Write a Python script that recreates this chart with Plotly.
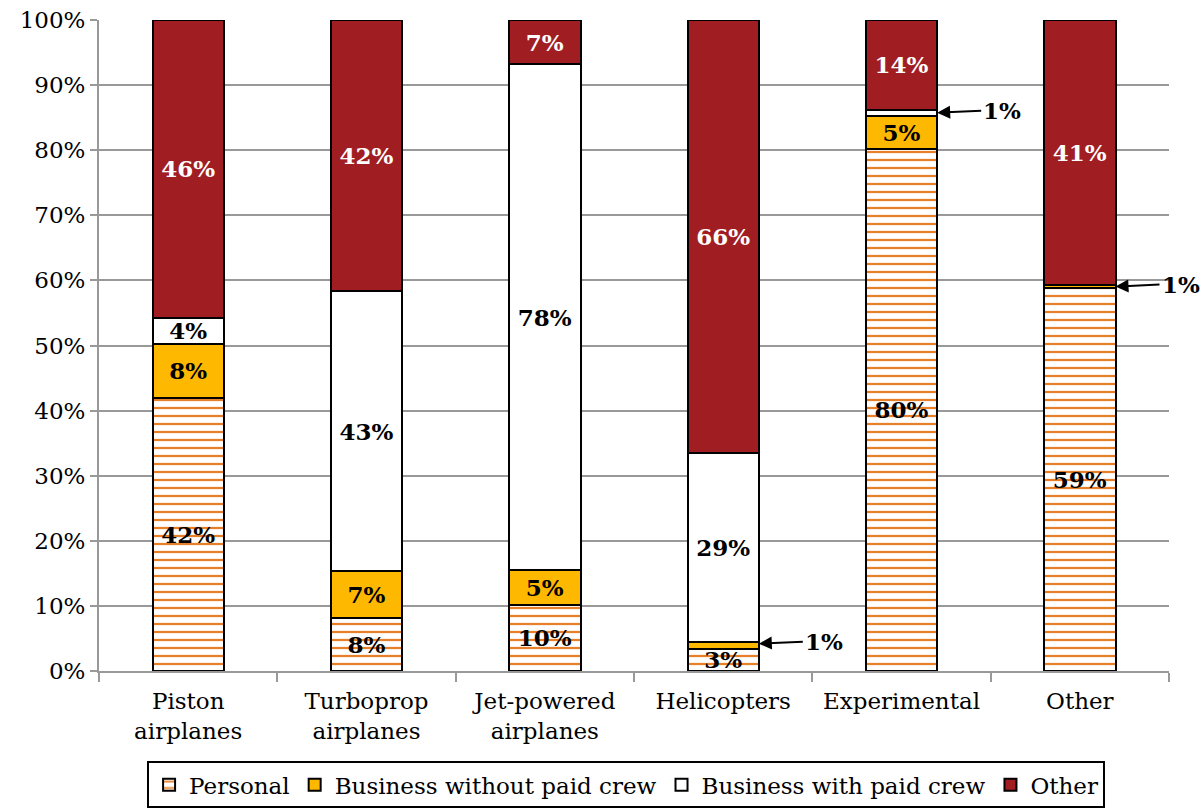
import plotly.graph_objects as go

categories = ["Piston<br>airplanes", "Turboprop<br>airplanes", "Jet-powered<br>airplanes",
              "Helicopters", "Experimental", "Other"]
personal = [42.0, 8.2, 10.2, 3.4, 80.2, 58.8]
biz_no_crew = [8.3, 7.1, 5.3, 1.0, 5.1, 0.5]
biz_crew = [4.0, 43.1, 77.7, 29.1, 0.9, 0.0]
other = [45.7, 41.6, 6.8, 66.5, 13.8, 40.7]

personal_lbl = ["42%", "8%", "10%", "3%", "80%", "59%"]
biz_no_crew_lbl = ["8%", "7%", "5%", "", "5%", ""]
biz_crew_lbl = ["4%", "43%", "78%", "29%", "", ""]
other_lbl = ["46%", "42%", "7%", "66%", "14%", "41%"]

FONT = "DejaVu Serif"
ORANGE_LINE = "#E8802A"
GOLD = "#FFB800"
RED = "#A01E22"

fig = go.Figure()

def add(name, vals, labels, color, txtcolor, pattern=None):
    marker = dict(color=color, line=dict(color="black", width=2))
    if pattern:
        marker["pattern"] = pattern
    fig.add_trace(go.Bar(
        name=name, x=categories, y=[v / 100 for v in vals],
        text=labels, textposition="inside", insidetextanchor="middle",
        constraintext="none", textangle=0,
        textfont=dict(family=FONT, size=23, color=txtcolor, weight="bold"),
        marker=marker, width=0.4, hoverinfo="skip",
    ))

add("Personal", personal, personal_lbl, "white", "black",
    pattern=dict(shape="-", fgcolor=ORANGE_LINE, bgcolor="white", size=8,
                 solidity=0.28, fillmode="replace", fgopacity=1))
add("Business without paid crew", biz_no_crew, biz_no_crew_lbl, GOLD, "black")
add("Business with paid crew", biz_crew, biz_crew_lbl, "white", "black")
add("Other", other, other_lbl, RED, "white")

# arrow annotations for small segments
cum1 = [p + b for p, b in zip(personal, biz_no_crew)]
cum2 = [c + b for c, b in zip(cum1, biz_crew)]
arrows = [
    (3, (personal[3] + cum1[3]) / 2 + 0.3, "1%"),
    (4, (cum1[4] + cum2[4]) / 2, "1%"),
    (5, (personal[5] + cum1[5]) / 2, "1%"),
]
for idx, yv, txt in arrows:
    fig.add_annotation(
        x=idx + 0.2, y=yv / 100, xref="x", yref="y", text=txt,
        showarrow=True, arrowhead=2, arrowsize=1.3, arrowwidth=2, arrowcolor="black",
        ax=44, ay=-2, xanchor="left",
        font=dict(family=FONT, size=23, color="black", weight="bold"),
    )

fig.update_layout(
    barmode="stack",
    width=1204, height=810,
    margin=dict(l=99, r=35, t=20, b=139, autoexpand=False),
    plot_bgcolor="white", paper_bgcolor="white",
    font=dict(family=FONT, size=23, color="black"),
    showlegend=True,
    legend=dict(orientation="h", xref="container", x=0.52, xanchor="center",
                yref="container", y=0.002, yanchor="bottom",
                bordercolor="black", borderwidth=2,
                font=dict(family=FONT, size=23, color="black"),
                traceorder="normal", itemwidth=30),
)
fig.update_yaxes(range=[0, 1], dtick=0.1, tickformat=".0%", showgrid=True,
                 gridcolor="#999999", gridwidth=2, showline=True, linecolor="#999999",
                 linewidth=2, ticks="outside", ticklen=7, tickcolor="#999999", tickwidth=2,
                 tickfont=dict(family=FONT, size=23), zeroline=False, automargin=False)
fig.update_xaxes(range=[-0.5, 5.5], showline=True, linecolor="#999999", linewidth=2,
                 ticks="outside", tickson="boundaries", ticklen=9, tickcolor="#999999",
                 tickwidth=2, tickfont=dict(family=FONT, size=23), showgrid=False,
                 automargin=False, ticklabelstandoff=8)

fig.write_html("out.html", config={"displayModeBar": False},
               post_script="document.body.style.margin='0';")
